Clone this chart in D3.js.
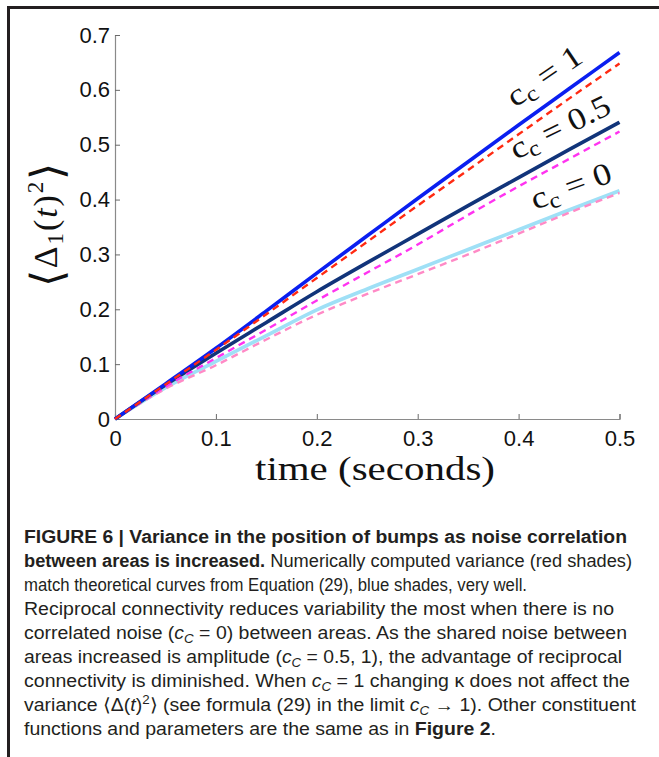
<!DOCTYPE html>
<html>
<head>
<meta charset="utf-8">
<script src="https://cdn.jsdelivr.net/npm/d3@7"></script>
<style>
  body { margin: 0; background: #fff; }
  svg { display: block; }
</style>
</head>
<body>
<svg id="chart" width="659" height="757"></svg>
<script>
// Variance of bump position over time for three noise-correlation levels.
const timeSeconds   = [0, 0.05, 0.1, 0.15, 0.2, 0.25, 0.3, 0.35, 0.4, 0.45, 0.5];
const theoryCc1     = [0, 0.064, 0.129, 0.197, 0.266, 0.334, 0.402, 0.469, 0.536, 0.602, 0.668];
const numericCc1    = [0, 0.063, 0.126, 0.191, 0.257, 0.323, 0.389, 0.454, 0.519, 0.584, 0.648];
const theoryCc05    = [0, 0.062, 0.120, 0.176, 0.232, 0.285, 0.337, 0.389, 0.440, 0.491, 0.541];
const numericCc05   = [0, 0.059, 0.111, 0.163, 0.216, 0.267, 0.318, 0.372, 0.424, 0.474, 0.524];
const theoryCc0     = [0, 0.057, 0.105, 0.152, 0.199, 0.237, 0.273, 0.309, 0.345, 0.381, 0.416];
const numericCc0    = [0, 0.055, 0.098, 0.145, 0.190, 0.228, 0.264, 0.300, 0.338, 0.376, 0.412];
const xTickValues   = [0, 0.1, 0.2, 0.3, 0.4, 0.5];
const yTickValues   = [0, 0.1, 0.2, 0.3, 0.4, 0.5, 0.6, 0.7];
const ccValues      = ["0", "0.5", "1"];

// drawing styles for each series (theory solid, numerics dashed)
const seriesList = [
  { values: theoryCc0,   color: "#9fe0f6", width: 3.6, dash: null },
  { values: numericCc0,  color: "#ff8ac6", width: 2.4, dash: "7,5" },
  { values: theoryCc05,  color: "#11347a", width: 3.6, dash: null },
  { values: numericCc05, color: "#ff33f0", width: 2.4, dash: "7,5" },
  { values: theoryCc1,   color: "#0a1ff0", width: 3.6, dash: null },
  { values: numericCc1,  color: "#ff2a12", width: 2.4, dash: "7,5" }
];

const svg = d3.select("#chart");

// frame around the figure
svg.append("path")
  .attr("d", "M8.5,757 V7.5 H659")
  .attr("fill", "none")
  .attr("stroke", "#231f20")
  .attr("stroke-width", 3);

const x = d3.scaleLinear().domain([0, 0.5]).range([115, 619.5]);
const y = d3.scaleLinear().domain([0, 0.7]).range([419, 35]);

const fmt = d => d === 0 ? "0" : d3.format(".1f")(d);

const xAxis = svg.append("g")
  .attr("transform", `translate(0,${y(0)})`)
  .call(d3.axisBottom(x).tickValues(xTickValues).tickFormat(fmt).tickSize(-5).tickPadding(11));
const yAxis = svg.append("g")
  .attr("transform", `translate(${x(0)},0)`)
  .call(d3.axisLeft(y).tickValues(yTickValues).tickFormat(fmt).tickSize(-5).tickPadding(5));

[xAxis, yAxis].forEach(g => {
  g.select(".domain").attr("stroke", "#8a8a8a").attr("stroke-width", 1.2);
  g.selectAll(".tick line").attr("stroke", "#6a6a6a");
  g.selectAll(".tick text")
    .attr("fill", "#111")
    .style("font-family", "'Liberation Sans', Arial, sans-serif")
    .style("font-size", "22px");
});

// curves
const line = d3.line()
  .x((d, i) => x(timeSeconds[i]))
  .y(d => y(d))
  .curve(d3.curveMonotoneX);

seriesList.forEach(s => {
  svg.append("path")
    .datum(s.values)
    .attr("d", line)
    .attr("fill", "none")
    .attr("stroke", s.color)
    .attr("stroke-width", s.width)
    .attr("stroke-dasharray", s.dash)
    .attr("stroke-linecap", "butt");
});

// rotated c_c labels along the curves
const labelPlacement = {
  "1":   { x: 515, y: 108, angle: -34, len: 84 },
  "0.5": { x: 516, y: 160, angle: -26, len: 108 },
  "0":   { x: 535, y: 210, angle: -20, len: 84 }
};
const serif = "'Liberation Serif', 'DejaVu Serif', serif";
ccValues.forEach(v => {
  const p = labelPlacement[v];
  const t = svg.append("text")
    .attr("transform", `translate(${p.x},${p.y}) rotate(${p.angle})`)
    .attr("textLength", p.len)
    .attr("lengthAdjust", "spacingAndGlyphs")
    .style("font-family", serif)
    .style("font-size", "31px")
    .attr("fill", "#111");
  t.append("tspan").text("c");
  t.append("tspan").attr("dy", 5).style("font-size", "22px").text("c");
  t.append("tspan").attr("dy", -5).text(" = " + v);
});

// x axis title
svg.append("text")
  .attr("x", 375).attr("y", 480)
  .attr("text-anchor", "middle")
  .attr("textLength", 240)
  .attr("lengthAdjust", "spacingAndGlyphs")
  .style("font-family", serif)
  .style("font-size", "33px")
  .attr("fill", "#111")
  .text("time (seconds)");

// y axis title  ⟨Δ1(t)^2⟩
const yt = svg.append("text")
  .attr("transform", "translate(57,225) rotate(-90)")
  .attr("text-anchor", "middle")
  .attr("textLength", 124)
  .attr("lengthAdjust", "spacing")
  .style("font-family", serif)
  .style("font-size", "34px")
  .attr("fill", "#111");
yt.append("tspan").style("font-size", "44px").attr("dy", 5).style("font-family", "'DejaVu Sans', sans-serif").style("font-weight", "200").text("\u27e8");
yt.append("tspan").attr("dy", -5).text("\u0394");
yt.append("tspan").attr("dy", 6).style("font-size", "23px").text("1");
yt.append("tspan").attr("dy", -6).text("(");
yt.append("tspan").style("font-style", "italic").text("t");
yt.append("tspan").text(")");
yt.append("tspan").attr("dy", -14).style("font-size", "23px").text("2");
yt.append("tspan").attr("dy", 19).style("font-size", "44px").style("font-family", "'DejaVu Sans', sans-serif").style("font-weight", "200").text("\u27e9");

// caption
const captionLines = [
  [["b", "FIGURE 6 | Variance in the position of bumps as noise correlation"]],
  [["b", "between areas is increased."], ["n", " Numerically computed variance (red shades)"]],
  [["n", "match theoretical curves from Equation (29), blue shades, very well."]],
  [["n", "Reciprocal connectivity reduces variability the most when there is no"]],
  [["n", "correlated noise ("], ["i", "c"], ["sub", "C"], ["n", " = 0) between areas. As the shared noise between"]],
  [["n", "areas increased is amplitude ("], ["i", "c"], ["sub", "C"], ["n", " = 0.5, 1), the advantage of reciprocal"]],
  [["n", "connectivity is diminished. When "], ["i", "c"], ["sub", "C"], ["n", " = 1 changing \u03ba does not affect the"]],
  [["n", "variance \u27e8\u0394("], ["i", "t"], ["n", ")"], ["sup", "2"], ["n", "\u27e9 (see formula (29) in the limit "], ["i", "c"], ["sub", "C"], ["n", " \u2192 1). Other constituent"]],
  [["n", "functions and parameters are the same as in "], ["b", "Figure 2"], ["n", "."]]
];
const captionWidths = [603, 608, 503, 590, 603, 598, 606, 612, 472];

captionLines.forEach((segs, i) => {
  const t = svg.append("text")
    .attr("x", 24)
    .attr("y", 543 + i * 24)
    .attr("textLength", captionWidths[i])
    .attr("lengthAdjust", "spacingAndGlyphs")
    .style("font-family", "'Liberation Sans', Arial, sans-serif")
    .style("font-size", "17.5px")
    .attr("fill", "#231f20");
  let shift = 0;
  segs.forEach(([kind, str]) => {
    const sp = t.append("tspan").text(str);
    let target = 0;
    if (kind === "b") sp.style("font-weight", "bold");
    if (kind === "i") sp.style("font-style", "italic");
    if (kind === "sub") { sp.style("font-style", "italic").style("font-size", "12px"); target = 4; }
    if (kind === "sup") { sp.style("font-size", "12px"); target = -7; }
    if (target !== shift) sp.attr("dy", target - shift);
    shift = target;
  });
});
</script>
</body>
</html>
